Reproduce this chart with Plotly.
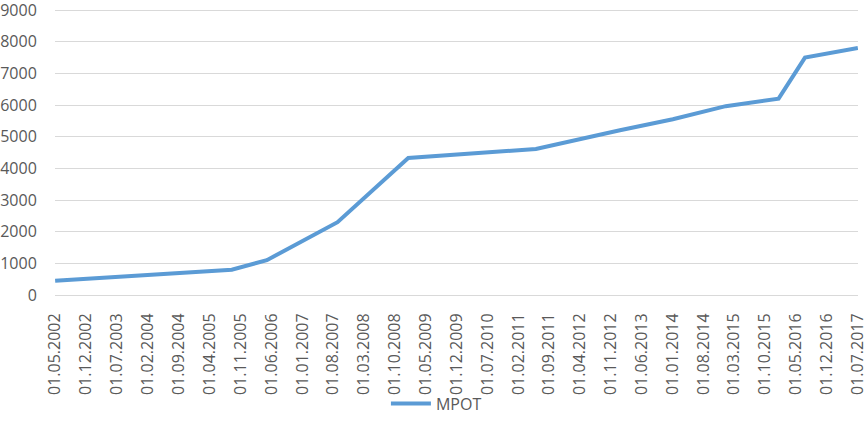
import plotly.graph_objects as go
import pandas as pd

dates = ["2002-05-01", "2003-10-01", "2005-01-01", "2005-09-01", "2006-05-01",
         "2007-09-01", "2009-01-01", "2011-06-01", "2013-01-01", "2014-01-01",
         "2015-01-01", "2016-01-01", "2016-07-01", "2017-07-01"]
values = [450, 600, 720, 800, 1100, 2300, 4330, 4611, 5205, 5554, 5965, 6204, 7500, 7800]
series_name = "МРОТ"

tick_dates = pd.date_range("2002-05-01", "2017-07-01", freq="7MS")
tick_labels = [d.strftime("%d.%m.%Y") for d in tick_dates]

font_family = "Open Sans, Liberation Sans, Arial, sans-serif"
text_color = "#595959"

fig = go.Figure()
fig.add_trace(go.Scatter(
    x=dates, y=values, mode="lines", name=series_name,
    line=dict(color="#5b9bd5", width=4),
))

fig.update_layout(
    width=868, height=430,
    margin=dict(l=55, r=10, t=9, b=135, autoexpand=False),
    paper_bgcolor="white", plot_bgcolor="white",
    font=dict(family=font_family, size=16, color=text_color),
    showlegend=True,
    legend=dict(orientation="h", x=0.475, xanchor="center", y=-0.38, yanchor="middle",
                bgcolor="rgba(0,0,0,0)",
                font=dict(size=16, color=text_color), itemwidth=40),
    xaxis=dict(
        type="date",
        range=["2002-04-30", "2017-07-02"],
        tickvals=list(tick_dates), ticktext=tick_labels,
        tickangle=-90, showgrid=False, showline=True, linecolor="#d9d9d9", linewidth=1,
        ticks="outside", ticklen=11, tickcolor="rgba(0,0,0,0)",
        tickfont=dict(size=16, color=text_color), automargin=False,
        ticklabeloverflow="allow",
    ),
    yaxis=dict(
        range=[0, 9035], tickvals=list(range(0, 9001, 1000)),
        showgrid=True, gridcolor="#d9d9d9", gridwidth=1,
        zeroline=False, showline=False,
        ticks="outside", ticklen=14, tickcolor="rgba(0,0,0,0)",
        tickfont=dict(size=16, color=text_color), automargin=False,
        ticklabeloverflow="allow",
    ),
)

fig.write_html("out.html", config={"displayModeBar": False},
               post_script="document.body.style.margin='0';document.body.style.overflow='hidden';")
